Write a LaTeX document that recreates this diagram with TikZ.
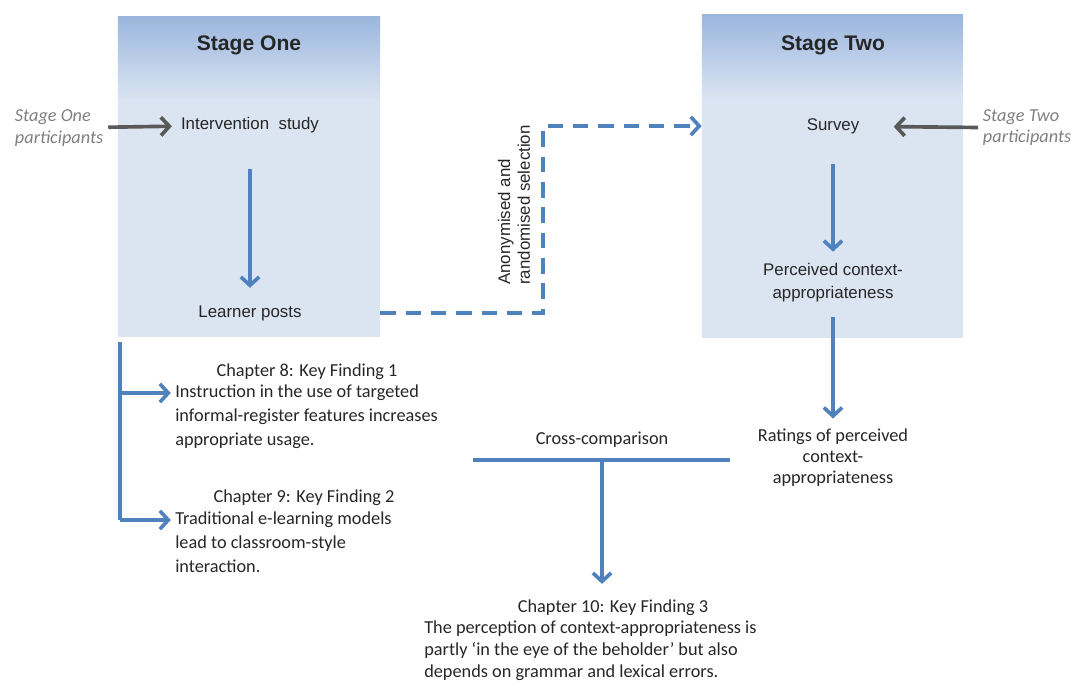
\documentclass[tikz,border=0pt]{standalone}
\usepackage{fontspec}
\setmainfont{Carlito}
\newfontfamily\arialfont{Liberation Sans}
\definecolor{ArrowBlue}{RGB}{79, 129, 189}
\definecolor{BoxTop}{RGB}{155, 182, 222}
\definecolor{BoxFill}{RGB}{219, 229, 242}
\definecolor{ArrowGray}{RGB}{89, 89, 89}
\definecolor{NoteGray}{RGB}{128, 128, 128}
\usetikzlibrary{arrows.meta, positioning}

\begin{document}
\begin{tikzpicture}[x=0.025cm, y=-0.025cm]
        \tikzstyle{stagebox} = [rectangle, fill=BoxFill, minimum width=6.55cm, minimum height=8cm, inner sep=0]
        \tikzstyle{stagehead} = [rectangle, top color=BoxTop, bottom color=BoxFill, minimum width=6.55cm, minimum height=2.1cm, inner sep=0]
        \tikzstyle{title} = [font=\arialfont\bfseries\fontsize{15}{18}\selectfont, text=black!85]
        \tikzstyle{stagetext} = [font=\arialfont\fontsize{12}{16.3}\selectfont, align=center, text=black!85]
        \tikzstyle{finding} = [font=\fontsize{13}{17}\selectfont, align=left, anchor=north west, inner sep=0, text=black!85]
        \tikzstyle{findhead} = [font=\fontsize{13}{17}\selectfont, text=black!85]
        \tikzstyle{note} = [font=\itshape\fontsize{13}{15}\selectfont, text=NoteGray, align=left]
        \tikzstyle{arrow} = [-{Straight Barb[length=6pt, width=13pt]}, line width=2.6pt, ArrowBlue]
        \tikzstyle{grayarrow} = [arrow, ArrowGray]
        \tikzstyle{link} = [line width=2.6pt, ArrowBlue]
        \tikzstyle{dasharrow} = [arrow, dash pattern=on 11pt off 7pt]

        \useasboundingbox (0,0) rectangle (1071,682);

        % Stage boxes
        \node (stageone) [stagebox] at (249,177) {};
        \node (headone) [stagehead, anchor=north] at (stageone.north) {};
        \node (titleone) [title] at (249,45) {Stage One};
        \node (stagetwo) [stagebox, minimum width=6.525cm, minimum height=8.075cm] at (832.5,176.5) {};
        \node (headtwo) [stagehead, minimum width=6.525cm, anchor=north] at (stagetwo.north) {};
        \node (titletwo) [title] at (833,45) {Stage Two};

        % Nodes
        \node (intervention) [stagetext] at (250,125) {Intervention\ \ study};
        \node (posts) [stagetext] at (250,313) {Learner posts};
        \node (survey) [stagetext] at (833,126) {Survey};
        \node (perceived) [stagetext] at (833,283) {Perceived context-\\appropriateness};
        \node (ratings) [findhead, align=center, font=\fontsize{13}{15}\selectfont] at (833,458) {Ratings of perceived\\context-\\appropriateness};
        \node (cross) [findhead] at (602,440) {Cross-comparison};
        \node (selection) [stagetext, rotate=90, align=left, font=\arialfont\fontsize{12}{14}\selectfont] at (514,205) {Anonymised and\\randomised selection};

        % Participants
        \node (noteone) [note, anchor=west] at (10,128) {Stage One\\participants};
        \node (notetwo) [note, anchor=west] at (978,128) {Stage Two\\participants};

        % Findings
        \node (find1head) [findhead] at (307,372) {Chapter 8: Key Finding 1};
        \node (find1) [finding] at (175,385) {Instruction in the use of targeted\\informal-register features increases\\appropriate usage.};
        \node (find2head) [findhead] at (304,498) {Chapter 9: Key Finding 2};
        \node (find2) [finding] at (175,512) {Traditional e-learning models\\lead to classroom-style\\interaction.};
        \node (find3head) [findhead] at (613,608) {Chapter 10: Key Finding 3};
        \node (find3) [finding, font=\fontsize{13}{15.6}\selectfont] at (424,621) {The perception of context-appropriateness is\\partly ‘in the eye of the beholder’ but also\\depends on grammar and lexical errors.};

        % Arrows
        \draw [grayarrow, shorten >=3pt] (noteone) -- (intervention);
        \draw [grayarrow, shorten >=21pt] (notetwo) -- (survey);
        \draw [arrow, shorten <=22pt, shorten >=9pt] (intervention) -- (posts);
        \draw [arrow, shorten <=18pt, shorten >=5pt] (survey) -- (perceived);
        \draw [arrow, shorten <=7pt, shorten >=4pt] (perceived) -- (ratings);

        % Selection link
        \draw [dasharrow] (stageone.east |- posts) -- ++(163,0) |- (stagetwo.west |- survey);

        % Fork to findings
        \coordinate (forktop) at (120,342);
        \coordinate (fork1) at (120,393);
        \coordinate (fork2) at (120,520);
        \draw [link] (forktop) -- (fork2);
        \draw [arrow, shorten >=3pt] (fork1) -- (fork1 -| find1.west);
        \draw [arrow, shorten >=3pt] (fork2) -- (fork2 -| find2.west);

        % Cross-comparison
        \coordinate (crossl) at (473,460);
        \coordinate (crossr) at (730,460);
        \coordinate (crossmid) at (602,460);
        \draw [link] (crossl) -- (crossr);
        \draw [arrow, shorten >=8pt] (crossmid) -- (crossmid |- find3head.north);
\end{tikzpicture}
\end{document}
